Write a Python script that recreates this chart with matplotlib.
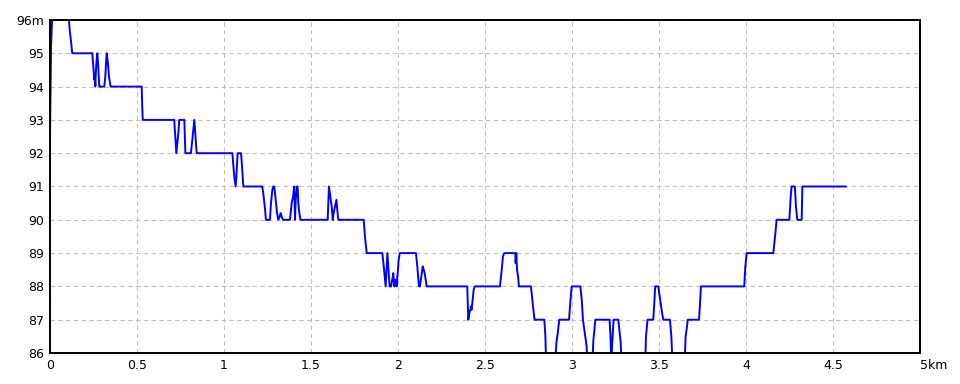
#!/usr/bin/env python3
import matplotlib as mpl
mpl.use('Agg')
from matplotlib import pyplot as plt
import numpy as np

# elevation profile: distance [km], altitude [m]
dist_km = [0.000, 0.000, 0.006, 0.012, 0.109, 0.113, 0.120, 0.128, 0.243, 0.249,
           0.255, 0.258, 0.2605, 0.264, 0.268, 0.272, 0.276, 0.280, 0.2835, 0.312,
           0.318, 0.322, 0.326, 0.333, 0.339, 0.345, 0.349, 0.527, 0.529, 0.533,
           0.714, 0.720, 0.726, 0.730, 0.7375, 0.743, 0.772, 0.775, 0.778, 0.810,
           0.816, 0.824, 0.8295, 0.835, 0.843, 1.048, 1.054, 1.059, 1.067, 1.071,
           1.075, 1.0785, 1.098, 1.105, 1.111, 1.220, 1.228, 1.236, 1.241, 1.264,
           1.270, 1.278, 1.2835, 1.289, 1.297, 1.305, 1.312, 1.320, 1.326, 1.331,
           1.339, 1.379, 1.389, 1.397, 1.404, 1.408, 1.412, 1.420, 1.423, 1.427,
           1.433, 1.439, 1.596, 1.603, 1.611, 1.619, 1.625, 1.630, 1.638, 1.646,
           1.651, 1.657, 1.803, 1.810, 1.820, 1.910, 1.918, 1.925, 1.929, 1.935,
           1.939, 1.944, 1.952, 1.960, 1.967, 1.973, 1.979, 1.987, 1.992, 1.998,
           2.004, 2.010, 2.103, 2.111, 2.117, 2.121, 2.126, 2.134, 2.142, 2.148,
           2.153, 2.159, 2.165, 2.398, 2.404, 2.410, 2.416, 2.419, 2.423, 2.429,
           2.435, 2.441, 2.586, 2.592, 2.598, 2.603, 2.611, 2.674, 2.676, 2.680,
           2.684, 2.690, 2.695, 2.764, 2.772, 2.780, 2.785, 2.841, 2.847, 2.852,
           2.902, 2.910, 2.918, 2.927, 2.983, 2.990, 2.998, 3.048, 3.056, 3.063,
           3.071, 3.079, 3.084, 3.090, 3.115, 3.123, 3.129, 3.134, 3.216, 3.222,
           3.226, 3.230, 3.236, 3.239, 3.266, 3.274, 3.280, 3.286, 3.420, 3.425,
           3.429, 3.434, 3.467, 3.473, 3.478, 3.496, 3.501, 3.507, 3.515, 3.521,
           3.525, 3.563, 3.571, 3.579, 3.646, 3.653, 3.661, 3.665, 3.730, 3.736,
           3.741, 3.990, 3.996, 4.004, 4.157, 4.167, 4.176, 4.249, 4.257, 4.262,
           4.281, 4.287, 4.295, 4.320, 4.324, 4.573]
elev_m  = [90.0, 92.5, 95.2, 96.0, 96.0, 95.7, 95.4, 95.0, 95.0, 94.6,
           94.2, 94.3, 94.0, 94.5, 94.8, 95.0, 94.7, 94.3, 94.0, 94.0,
           94.3, 94.7, 95.0, 94.7, 94.3, 94.1, 94.0, 94.0, 93.6, 93.0,
           93.0, 92.5, 92.0, 92.2, 92.6, 93.0, 93.0, 92.5, 92.0, 92.0,
           92.3, 92.7, 93.0, 92.6, 92.0, 92.0, 91.6, 91.3, 91.0, 91.3,
           91.7, 92.0, 92.0, 91.5, 91.0, 91.0, 90.7, 90.3, 90.0, 90.0,
           90.5, 90.9, 91.0, 91.0, 90.6, 90.2, 90.0, 90.1, 90.2, 90.1,
           90.0, 90.0, 90.5, 90.7, 91.0, 90.0, 90.6, 91.0, 91.0, 90.5,
           90.2, 90.0, 90.0, 91.0, 90.7, 90.4, 90.0, 90.2, 90.4, 90.6,
           90.3, 90.0, 90.0, 89.5, 89.0, 89.0, 88.6, 88.2, 88.0, 88.6,
           89.0, 88.6, 88.0, 88.0, 88.2, 88.4, 88.0, 88.2, 88.0, 88.4,
           88.8, 89.0, 89.0, 88.6, 88.2, 88.0, 88.0, 88.3, 88.6, 88.5,
           88.4, 88.2, 88.0, 88.0, 87.0, 87.2, 87.3, 87.4, 87.3, 87.6,
           87.9, 88.0, 88.0, 88.3, 88.6, 88.9, 89.0, 89.0, 88.7, 89.0,
           88.5, 88.3, 88.0, 88.0, 87.6, 87.2, 87.0, 87.0, 86.5, 85.5,
           85.5, 86.3, 86.6, 87.0, 87.0, 87.5, 88.0, 88.0, 87.6, 87.0,
           86.7, 86.4, 86.2, 85.5, 85.5, 86.4, 86.7, 87.0, 87.0, 86.4,
           85.5, 86.2, 86.7, 87.0, 87.0, 86.6, 86.3, 85.5, 85.5, 86.5,
           86.7, 87.0, 87.0, 87.5, 88.0, 88.0, 87.8, 87.6, 87.3, 87.1,
           87.0, 87.0, 86.5, 85.5, 85.5, 86.5, 86.8, 87.0, 87.0, 87.5,
           88.0, 88.0, 88.6, 89.0, 89.0, 89.5, 90.0, 90.0, 90.7, 91.0,
           91.0, 90.4, 90.0, 90.0, 91.0, 91.0]

xticks      = [0, 0.5, 1, 1.5, 2, 2.5, 3, 3.5, 4, 4.5, 5]
xticklabels = ['0', '0.5', '1', '1.5', '2', '2.5', '3', '3.5', '4', '4.5', '5km']
yticks      = [86, 87, 88, 89, 90, 91, 92, 93, 94, 95, 96]
yticklabels = ['86', '87', '88', '89', '90', '91', '92', '93', '94', '95', '96m']

plt.rcParams['font.family'] = ['Liberation Sans Narrow', 'DejaVu Sans']

fig = plt.figure(figsize=(9.6, 3.84), dpi=100)
ax  = fig.add_axes([50/960., 1-353/384., 870/960., 333/384.])

ax.plot(dist_km, elev_m, color='#0000ff', lw=1.4, zorder=2)

ax.set_xlim(0, 5)
ax.set_ylim(86, 96)
ax.set_xticks(xticks)
ax.set_xticklabels(xticklabels)
ax.set_yticks(yticks)
ax.set_yticklabels(yticklabels)
ax.tick_params(length=0, labelsize=9, pad=4, colors='black')

lbl = ax.get_xticklabels()[-1]
lbl.set_horizontalalignment('left')

ax.grid(True, color='#c0c0c0', lw=0.8, linestyle=(0, (4, 3)))
ax.set_axisbelow(True)
for sp in ax.spines.values():
    sp.set_color('black')
    sp.set_linewidth(1.4)
    sp.set_zorder(3)

fig.savefig('out.png', dpi=100, facecolor='white')
